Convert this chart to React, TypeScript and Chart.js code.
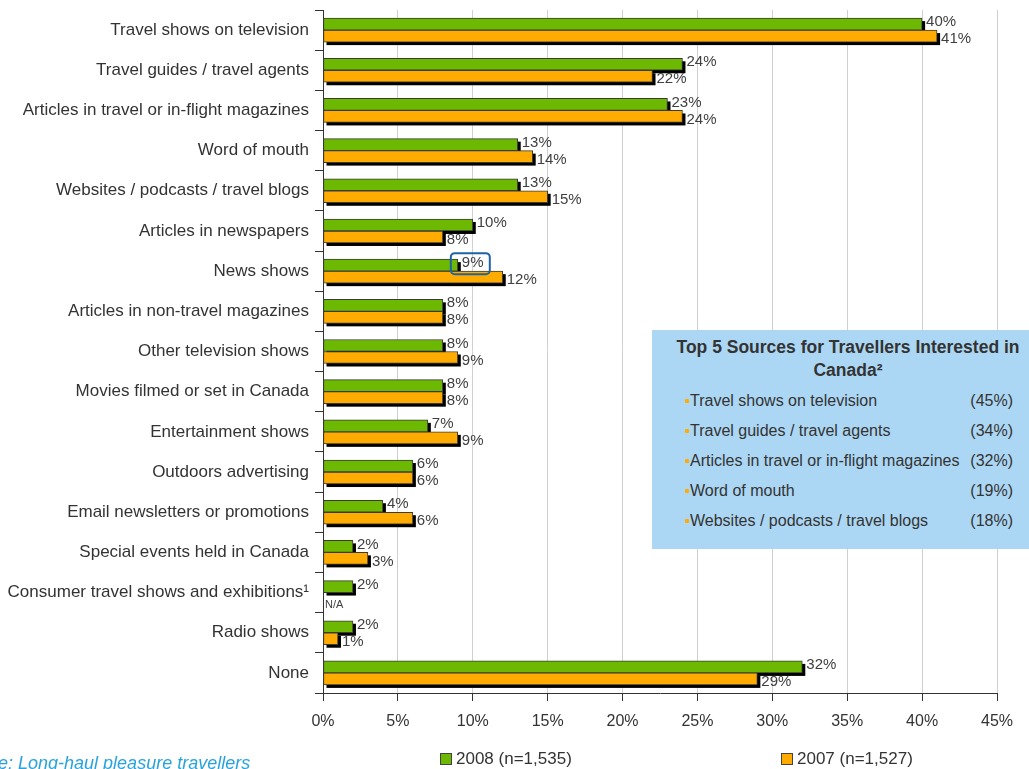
import React, { useEffect, useRef } from 'react';
import { Chart, registerables } from 'chart.js';
Chart.register(...registerables);

const categories = [
  'Travel shows on television',
  'Travel guides / travel agents',
  'Articles in travel or in-flight magazines',
  'Word of mouth',
  'Websites / podcasts / travel blogs',
  'Articles in newspapers',
  'News shows',
  'Articles in non-travel magazines',
  'Other television shows',
  'Movies filmed or set in Canada',
  'Entertainment shows',
  'Outdoors advertising',
  'Email newsletters or promotions',
  'Special events held in Canada',
  'Consumer travel shows and exhibitions\u00B9',
  'Radio shows',
  'None',
];
const values2008 = [40, 24, 23, 13, 13, 10, 9, 8, 8, 8, 7, 6, 4, 2, 2, 2, 32];
const values2007: (number | null)[] = [41, 22, 24, 14, 15, 8, 12, 8, 9, 8, 9, 6, 6, 3, null, 1, 29];
const seriesLabels = ['2008 (n=1,535)', '2007 (n=1,527)'];
const seriesColors = ['#6db800', '#ffab00'];
const xMin = 0;
const xMax = 45;
const xStep = 5;
const highlightIndex = 6;
const missingLabel = 'N/A';

const boxTitle = 'Top 5 Sources for Travellers Interested in Canada\u00B2';
const topFiveLabels = [
  'Travel shows on television',
  'Travel guides / travel agents',
  'Articles in travel or in-flight magazines',
  'Word of mouth',
  'Websites / podcasts / travel blogs',
];
const topFiveValues = ['(45%)', '(34%)', '(32%)', '(19%)', '(18%)'];
const sourceText = 'Source: Long-haul pleasure travellers';

const FONT = "'Liberation Sans', Arial, sans-serif";

const decorPlugin = {
  id: 'decor',
  beforeDatasetsDraw(chart: any) {
    const ctx = chart.ctx;
    ctx.save();
    ctx.fillStyle = '#000';
    chart.data.datasets.forEach((ds: any, di: number) => {
      const meta = chart.getDatasetMeta(di);
      meta.data.forEach((bar: any, i: number) => {
        if (ds.data[i] == null) return;
        const { x, y, base, height } = bar.getProps(['x', 'y', 'base', 'height'], true);
        ctx.fillRect(base + 3, y - height / 2 + 3, x - base, height);
      });
    });
    ctx.restore();
  },
  afterDatasetsDraw(chart: any) {
    const ctx = chart.ctx;
    ctx.save();
    ctx.textBaseline = 'middle';
    ctx.textAlign = 'left';
    chart.data.datasets.forEach((ds: any, di: number) => {
      const meta = chart.getDatasetMeta(di);
      meta.data.forEach((bar: any, i: number) => {
        const v = ds.data[i];
        const { x, y, base } = bar.getProps(['x', 'y', 'base'], true);
        if (v == null) {
          ctx.font = `11px ${FONT}`;
          ctx.fillStyle = '#404040';
          ctx.fillText(missingLabel, base + 2, y + 6);
          return;
        }
        ctx.font = `15px ${FONT}`;
        ctx.fillStyle = '#404040';
        const ly = di === 0 ? y - 2 : y + 3;
        ctx.fillText(`${v}%`, x + 4, ly);
        if (di === 0 && i === highlightIndex) {
          ctx.strokeStyle = '#1f62a5';
          ctx.lineWidth = 2;
          ctx.beginPath();
          (ctx as any).roundRect(x - 7, y - 12, 39, 21, 4);
          ctx.stroke();
        }
      });
    });
    ctx.restore();
  },
};

export default function App() {
  const ref = useRef<HTMLCanvasElement | null>(null);
  useEffect(() => {
    if (!ref.current) return;
    const chart = new Chart(ref.current, {
      type: 'bar',
      data: {
        labels: categories,
        datasets: [0, 1].map((k) => ({
          label: seriesLabels[k],
          data: k === 0 ? values2008 : values2007,
          backgroundColor: seriesColors[k],
          borderColor: '#3a3a3a',
          borderWidth: 1,
          borderSkipped: false,
          barThickness: 12,
        })),
      },
      options: {
        indexAxis: 'y',
        responsive: false,
        maintainAspectRatio: false,
        animation: false,
        devicePixelRatio: 1,
        layout: { padding: { top: 10, right: 32, bottom: 0, left: 0 } },
        plugins: { legend: { display: false }, tooltip: { enabled: false } },
        scales: {
          x: {
            min: xMin,
            max: xMax,
            ticks: {
              stepSize: xStep,
              callback: (v: any) => `${v}%`,
              font: { family: FONT, size: 16 },
              color: '#333',
              padding: 11,
              maxRotation: 0,
            },
            grid: { color: '#d0d0d0', tickColor: '#333', tickLength: 8, drawTicks: true },
            border: { color: '#333', width: 1 },
            afterFit: (s: any) => { s.height = 76; s.paddingLeft = 0; s.paddingRight = 0; },
          },
          y: {
            ticks: { font: { family: FONT, size: 17 }, color: '#333', padding: 6, autoSkip: false },
            grid: { drawOnChartArea: false, offset: true, tickLength: 8, tickColor: '#333' },
            border: { color: '#333', width: 1 },
            afterFit: (s: any) => { s.width = 323; s.paddingTop = 0; s.paddingBottom = 0; },
          },
        },
      },
      plugins: [decorPlugin],
    } as any);
    return () => chart.destroy();
  }, []);

  return (
    <div style={{ position: 'fixed', left: 0, top: 0, width: 1029, height: 769, overflow: 'hidden', fontFamily: FONT, background: '#fff' }}>
      <canvas ref={ref} width={1029} height={769} style={{ position: 'absolute', left: 0, top: 0 }} />
      <div style={{ position: 'absolute', left: 652, top: 330, width: 377, height: 219, background: '#acd7f4', overflow: 'hidden', color: '#333' }}>
        <div style={{ position: 'absolute', left: 14, top: 6, width: 364, textAlign: 'center', fontWeight: 'bold', fontSize: 17.5, lineHeight: '23px' }}>
          {boxTitle}
        </div>
        {topFiveLabels.map((t, i) => (
          <div key={i} style={{ position: 'absolute', left: 0, top: 60 + i * 30, width: 377, height: 22, fontSize: 16, lineHeight: '22px' }}>
            <span style={{ position: 'absolute', left: 33, top: 9, width: 4, height: 4, borderRadius: 1, background: '#ffab00' }} />
            <span style={{ position: 'absolute', left: 38, top: 0, whiteSpace: 'nowrap' }}>{t}</span>
            <span style={{ position: 'absolute', right: 16, top: 0 }}>{topFiveValues[i]}</span>
          </div>
        ))}
      </div>
      {seriesLabels.map((s, i) => (
        <div key={i} style={{ position: 'absolute', left: i === 0 ? 440 : 781, top: 748, height: 21, fontSize: 17, lineHeight: '21px', color: '#333', whiteSpace: 'nowrap' }}>
          <span style={{ display: 'inline-block', width: 10, height: 10, border: '1px solid #444', background: seriesColors[i], marginRight: 4, verticalAlign: '-1px' }} />
          {s}
        </div>
      ))}
      <div style={{ position: 'absolute', left: -49, top: 753, fontSize: 18, lineHeight: '21px', fontStyle: 'italic', color: '#29a3dc', whiteSpace: 'nowrap' }}>
        {sourceText}
      </div>
    </div>
  );
}
